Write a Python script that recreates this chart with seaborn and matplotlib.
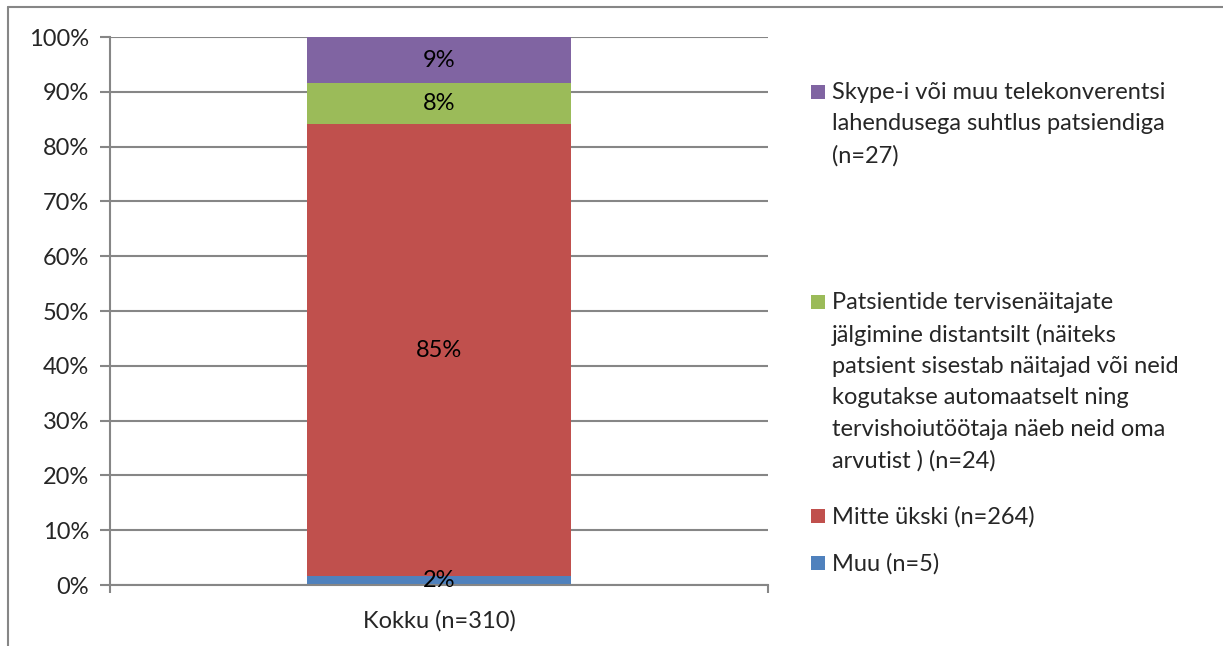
import pandas as pd
import seaborn as sns
import matplotlib.pyplot as plt
from matplotlib.lines import Line2D
from matplotlib.patches import Rectangle

# data
category = "Kokku (n=310)"
total_n = 310
labels = [
    "Muu (n=5)",
    "Mitte ükski (n=264)",
    "Patsientide tervisenäitajate\njälgimine distantsilt (näiteks\npatsient sisestab näitajad või neid\nkogutakse automaatselt ning\ntervishoiutöötaja näeb neid oma\narvutist ) (n=24)",
    "Skype-i või muu telekonverentsi\nlahendusega suhtlus patsiendiga\n(n=27)",
]
counts = [5, 264, 24, 27]
colors = ["#4F81BD", "#C0504D", "#9BBB59", "#8064A2"]

# stacked 100% shares
shares = [c / sum(counts) * 100 for c in counts]
tops = pd.Series(shares).cumsum().tolist()
bottoms = [0] + tops[:-1]
pct_labels = [f"{round(c / total_n * 100)}%" for c in counts]

sns.set_style("white")
plt.rcParams["font.family"] = ["Lato", "DejaVu Sans"]
fs = 17

fig = plt.figure(figsize=(12.23, 6.46), dpi=100)
ax = fig.add_axes([110 / 1223, 1 - 585 / 646, (768 - 110) / 1223, (585 - 37) / 646])

grid_c = "#868686"
# draw cumulative bars from the top layer down so smaller ones cover
for i in reversed(range(len(counts))):
    df = pd.DataFrame({"cat": [category], "val": [tops[i]]})
    sns.barplot(data=df, x="cat", y="val", color=colors[i], width=0.4,
                errorbar=None, saturation=1, ax=ax, zorder=2, linewidth=0)

for i in range(len(counts)):
    ax.text(0, (bottoms[i] + tops[i]) / 2, pct_labels[i], ha="center", va="center",
            fontsize=fs, color="black", zorder=5)

ax.set_xlim(-0.5, 0.5)
ax.set_ylim(0, 100)
ax.set_yticks(range(0, 101, 10))
ax.set_yticklabels([f"{v}%" for v in range(0, 101, 10)], fontsize=fs)
ax.yaxis.grid(True, color=grid_c, linewidth=1.5, zorder=0)
ax.set_axisbelow(True)
ax.set_xlabel("")
ax.set_ylabel("")
ax.tick_params(axis="y", length=7, width=1.5, color=grid_c, pad=8, left=True)
ax.tick_params(axis="x", which="major", length=0, pad=18, labelsize=fs)
ax.set_xticks([-0.5, 0.5], minor=True)
ax.tick_params(axis="x", which="minor", length=6, width=1.5, color=grid_c, bottom=True)
for s in ["top", "right"]:
    ax.spines[s].set_visible(False)
for s in ["left", "bottom"]:
    ax.spines[s].set_color(grid_c)
    ax.spines[s].set_linewidth(1.5)

# legend drawn to mimic the spreadsheet layout
leg_pos = [563, 516, 302, 92]  # center y of first text line (px)
for lab, col, y in zip(labels, colors, leg_pos):
    fy = 1 - y / 646
    fig.patches.append(Rectangle((811 / 1223, fy - 7 / 646), 14 / 1223, 14 / 646,
                                 transform=fig.transFigure, facecolor=col,
                                 edgecolor="none"))
    fig.text(832 / 1223, fy + 10 / 646, lab, ha="left", va="top", fontsize=fs,
             linespacing=1.6)

# outer chart border (left and top edges visible)
fig.add_artist(Line2D([8 / 1223, 8 / 1223], [0, 1 - 7 / 646], color=grid_c,
                      linewidth=1.5, transform=fig.transFigure))
fig.add_artist(Line2D([8 / 1223, 1], [1 - 7 / 646, 1 - 7 / 646], color=grid_c,
                      linewidth=1.5, transform=fig.transFigure))

fig.savefig("out.png", dpi=100)
